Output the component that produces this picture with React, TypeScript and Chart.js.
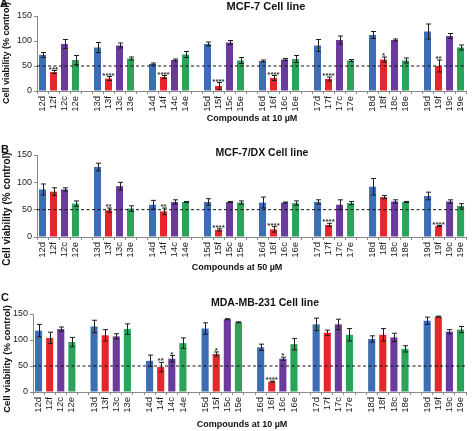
import React, { useEffect, useRef } from 'react';
import { Chart, registerables } from 'chart.js';

Chart.register(...registerables);

const FONT = '"Liberation Sans", Arial, Helvetica, sans-serif';

// Compound families and the four derivatives shown for each
const groups = ['12', '13', '14', '15', '16', '17', '18', '19'];
const suffixes = ['d', 'f', 'c', 'e'];
const seriesColors = ['#3c6db5', '#e5262c', '#6a3b9c', '#2ca35b'];
const yTicks = [0, 50, 100, 150];
const threshold = 50;

// MCF-7, 10 µM — cell viability (% control)
const mcf7D = [72, 87, 54, 94, 60, 91, 112, 119];
const mcf7F = [38, 25, 28, 10, 26, 24, 63, 50];
const mcf7C = [94, 91, 62, 97, 63, 102, 102, 110];
const mcf7E = [62, 65, 73, 61, 64, 61, 61, 87];
const mcf7DErr = [5, 10, 2, 4, 2, 12, 7, 15];
const mcf7FErr = [3, 4, 3, 7, 5, 4, 5, 12];
const mcf7CErr = [9, 5, 2, 4, 2, 8, 2, 5];
const mcf7EErr = [9, 3, 6, 6, 7, 2, 5, 5];
const mcf7Marks: [string, string][] = [
  ['12f', '***'], ['13f', '****'], ['14f', '****'], ['15f', '****'],
  ['16f', '****'], ['17f', '****'], ['18f', '*'], ['19f', '**'],
];

// MCF-7/DX, 50 µM
const dxD = [87, 128, 59, 64, 63, 64, 92, 75];
const dxF = [83, 49, 47, 13, 14, 22, 73, 20];
const dxC = [87, 93, 64, 64, 63, 59, 65, 65];
const dxE = [61, 52, 64, 63, 62, 62, 64, 57];
const dxDErr = [10, 7, 8, 6, 10, 4, 15, 7];
const dxFErr = [7, 4, 6, 2, 5, 3, 3, 1];
const dxCErr = [3, 7, 4, 1, 1, 9, 3, 3];
const dxEErr = [5, 5, 1, 3, 4, 3, 1, 4];
const dxMarks: [string, string][] = [
  ['13f', '**'], ['14f', '**'], ['15f', '****'], ['16f', '****'],
  ['17f', '****'], ['19f', '****'],
];

// MDA-MB-231, 10 µM
const mdaD = [118, 126, 60, 122, 86, 130, 102, 137];
const mdaF = [104, 109, 48, 73, 20, 114, 110, 145];
const mdaC = [121, 107, 64, 140, 64, 130, 105, 116];
const mdaE = [96, 121, 94, 134, 92, 110, 83, 120];
const mdaDErr = [12, 12, 11, 11, 6, 12, 6, 7];
const mdaFErr = [11, 11, 9, 4, 1, 5, 12, 1];
const mdaCErr = [4, 5, 6, 1, 3, 10, 8, 4];
const mdaEErr = [9, 10, 10, 1, 11, 12, 6, 6];
const mdaMarks: [string, string][] = [
  ['14f', '**'], ['14c', '*'], ['15f', '*'], ['16f', '****'], ['16c', '*'],
];

// Category slots: four bars per family, one empty slot between families
const slotLabels: string[] = [];
groups.forEach((g, gi) => {
  suffixes.forEach((s) => slotLabels.push(g + s));
  if (gi < groups.length - 1) slotLabels.push('');
});

function toSlots(values: number[], si: number): (number | null)[] {
  const out: (number | null)[] = slotLabels.map(() => null);
  values.forEach((v, gi) => {
    out[gi * 5 + si] = v;
  });
  return out;
}

type TextSpec = { text: string; x: number; y: number; size: number; rotate?: boolean; align?: CanvasTextAlign };

type PanelSpec = {
  height: number;
  values: number[][];
  errors: number[][];
  marks: [string, string][];
  yWidth: number;
  xHeight: number;
  padTop: number;
  padRight: number;
  texts: TextSpec[];
};

const panels: PanelSpec[] = [
  {
    height: 140,
    values: [mcf7D, mcf7F, mcf7C, mcf7E],
    errors: [mcf7DErr, mcf7FErr, mcf7CErr, mcf7EErr],
    marks: mcf7Marks,
    yWidth: 37,
    xHeight: 49,
    padTop: 16,
    padRight: 7,
    texts: [
      { text: 'A', x: 0, y: 4, size: 11, align: 'left' },
      { text: 'MCF-7 Cell line', x: 266, y: 7, size: 11 },
      { text: 'Cell viability (% control)', x: 7, y: 53, size: 9, rotate: true },
      { text: 'Compounds at 10 µM', x: 252, y: 119, size: 9 },
    ],
  },
  {
    height: 145,
    values: [dxD, dxF, dxC, dxE],
    errors: [dxDErr, dxFErr, dxCErr, dxEErr],
    marks: dxMarks,
    yWidth: 37,
    xHeight: 48,
    padTop: 15,
    padRight: 1,
    texts: [
      { text: 'B', x: 1, y: 10, size: 11, align: 'left' },
      { text: 'MCF-7/DX Cell line', x: 262, y: 13, size: 10.5 },
      { text: 'Cell viability (% control)', x: 7, y: 69, size: 10, rotate: true },
      { text: 'Compounds at 50 µM', x: 237, y: 128, size: 9 },
    ],
  },
  {
    height: 146,
    values: [mdaD, mdaF, mdaC, mdaE],
    errors: [mdaDErr, mdaFErr, mdaCErr, mdaEErr],
    marks: mdaMarks,
    yWidth: 33,
    xHeight: 39,
    padTop: 29,
    padRight: 7,
    texts: [
      { text: 'C', x: 1, y: 13, size: 11, align: 'left' },
      { text: 'MDA-MB-231 Cell line', x: 265, y: 18, size: 10.5 },
      { text: 'Cell viability (% control)', x: 7, y: 74, size: 9.5, rotate: true },
      { text: 'Compounds at 10 µM', x: 242, y: 140, size: 9 },
    ],
  },
];

// Draws the 50% dashed line, error bars, significance stars and panel texts
const overlayPlugin = {
  id: 'panelOverlay',
  afterDatasetsDraw(chart: any, _args: any, opts: any) {
    const { ctx, chartArea } = chart;
    const y = chart.scales.y;
    ctx.save();

    const yRef = y.getPixelForValue(threshold);
    ctx.strokeStyle = '#111';
    ctx.lineWidth = 1;
    ctx.setLineDash([3, 2.5]);
    ctx.beginPath();
    ctx.moveTo(chartArea.left, yRef);
    ctx.lineTo(chartArea.right, yRef);
    ctx.stroke();
    ctx.setLineDash([]);

    const tops: Record<number, number> = {};
    chart.data.datasets.forEach((ds: any, di: number) => {
      const meta = chart.getDatasetMeta(di);
      meta.data.forEach((bar: any, i: number) => {
        const v = ds.data[i];
        if (v == null) return;
        const e = ds.errors[i] || 0;
        const x = Math.round(bar.x) + 0.5;
        const yTop = y.getPixelForValue(v + e);
        const yBot = y.getPixelForValue(v - e);
        tops[i] = yTop;
        ctx.strokeStyle = '#1d1d1d';
        ctx.lineWidth = 1;
        ctx.beginPath();
        ctx.moveTo(x, yTop);
        ctx.lineTo(x, yBot);
        ctx.moveTo(x - 2.5, yTop);
        ctx.lineTo(x + 2.5, yTop);
        ctx.moveTo(x - 2.5, yBot);
        ctx.lineTo(x + 2.5, yBot);
        ctx.stroke();
      });
    });

    ctx.fillStyle = '#333';
    ctx.font = `bold 8px ${FONT}`;
    ctx.textAlign = 'center';
    ctx.textBaseline = 'alphabetic';
    (opts.marks as [string, string][]).forEach(([label, mark]) => {
      const idx = slotLabels.indexOf(label);
      if (idx < 0 || tops[idx] == null) return;
      const x = chart.scales.x.getPixelForValue(idx);
      ctx.fillText(mark, x, tops[idx] + 1);
    });
    ctx.restore();
  },
  afterDraw(chart: any, _args: any, opts: any) {
    const { ctx } = chart;
    ctx.save();
    ctx.fillStyle = '#111';
    ctx.textBaseline = 'middle';
    (opts.texts as TextSpec[]).forEach((t) => {
      ctx.font = `bold ${t.size}px ${FONT}`;
      ctx.textAlign = t.align || 'center';
      if (t.rotate) {
        ctx.save();
        ctx.translate(t.x, t.y);
        ctx.rotate(-Math.PI / 2);
        ctx.textAlign = 'center';
        ctx.fillText(t.text, 0, 0);
        ctx.restore();
      } else {
        ctx.fillText(t.text, t.x, t.y);
      }
    });
    ctx.restore();
  },
};

function Panel({ spec }: { spec: PanelSpec }) {
  const ref = useRef<HTMLCanvasElement>(null);
  useEffect(() => {
    if (!ref.current) return;
    const axisColor = '#8a8a8a';
    const chart = new Chart(ref.current, {
      type: 'bar',
      data: {
        labels: slotLabels,
        datasets: spec.values.map((vals, si) => ({
          label: suffixes[si],
          data: toSlots(vals, si),
          errors: toSlots(spec.errors[si], si),
          backgroundColor: seriesColors[si],
          borderWidth: 0,
          barPercentage: 0.64,
          categoryPercentage: 1,
          grouped: false,
        })) as any,
      },
      options: {
        responsive: false,
        animation: false,
        layout: {
          autoPadding: false,
          padding: { top: spec.padTop, right: spec.padRight, left: 0, bottom: 0 },
        } as any,
        plugins: {
          legend: { display: false },
          tooltip: { enabled: false },
          panelOverlay: { marks: spec.marks, texts: spec.texts },
        } as any,
        scales: {
          x: {
            type: 'category',
            offset: true,
            grid: { display: true, drawOnChartArea: false, offset: true, tickLength: 3, color: axisColor },
            border: { display: true, color: axisColor },
            ticks: {
              autoSkip: false,
              maxRotation: 90,
              minRotation: 90,
              padding: 2,
              color: '#222',
              font: { family: FONT, size: 9.5 },
            },
            afterFit: (s: any) => {
              s.height = spec.xHeight;
            },
          },
          y: {
            min: 0,
            max: 150,
            afterBuildTicks: (s: any) => {
              s.ticks = yTicks.map((v) => ({ value: v }));
            },
            grid: { display: true, drawOnChartArea: false, tickLength: 3, color: axisColor },
            border: { display: true, color: axisColor },
            ticks: { padding: 2, color: '#222', font: { family: FONT, size: 9 } },
            afterFit: (s: any) => {
              s.width = spec.yWidth;
            },
          },
        },
      },
      plugins: [overlayPlugin],
    });
    return () => chart.destroy();
  }, [spec]);
  return <canvas ref={ref} width={474} height={spec.height} style={{ display: 'block' }} />;
}

export default function App() {
  useEffect(() => {
    document.body.style.margin = '0';
    document.body.style.background = '#ffffff';
  }, []);
  return (
    <div style={{ width: 474, height: 431, background: '#fff' }}>
      {panels.map((p, i) => (
        <Panel key={i} spec={p} />
      ))}
    </div>
  );
}
